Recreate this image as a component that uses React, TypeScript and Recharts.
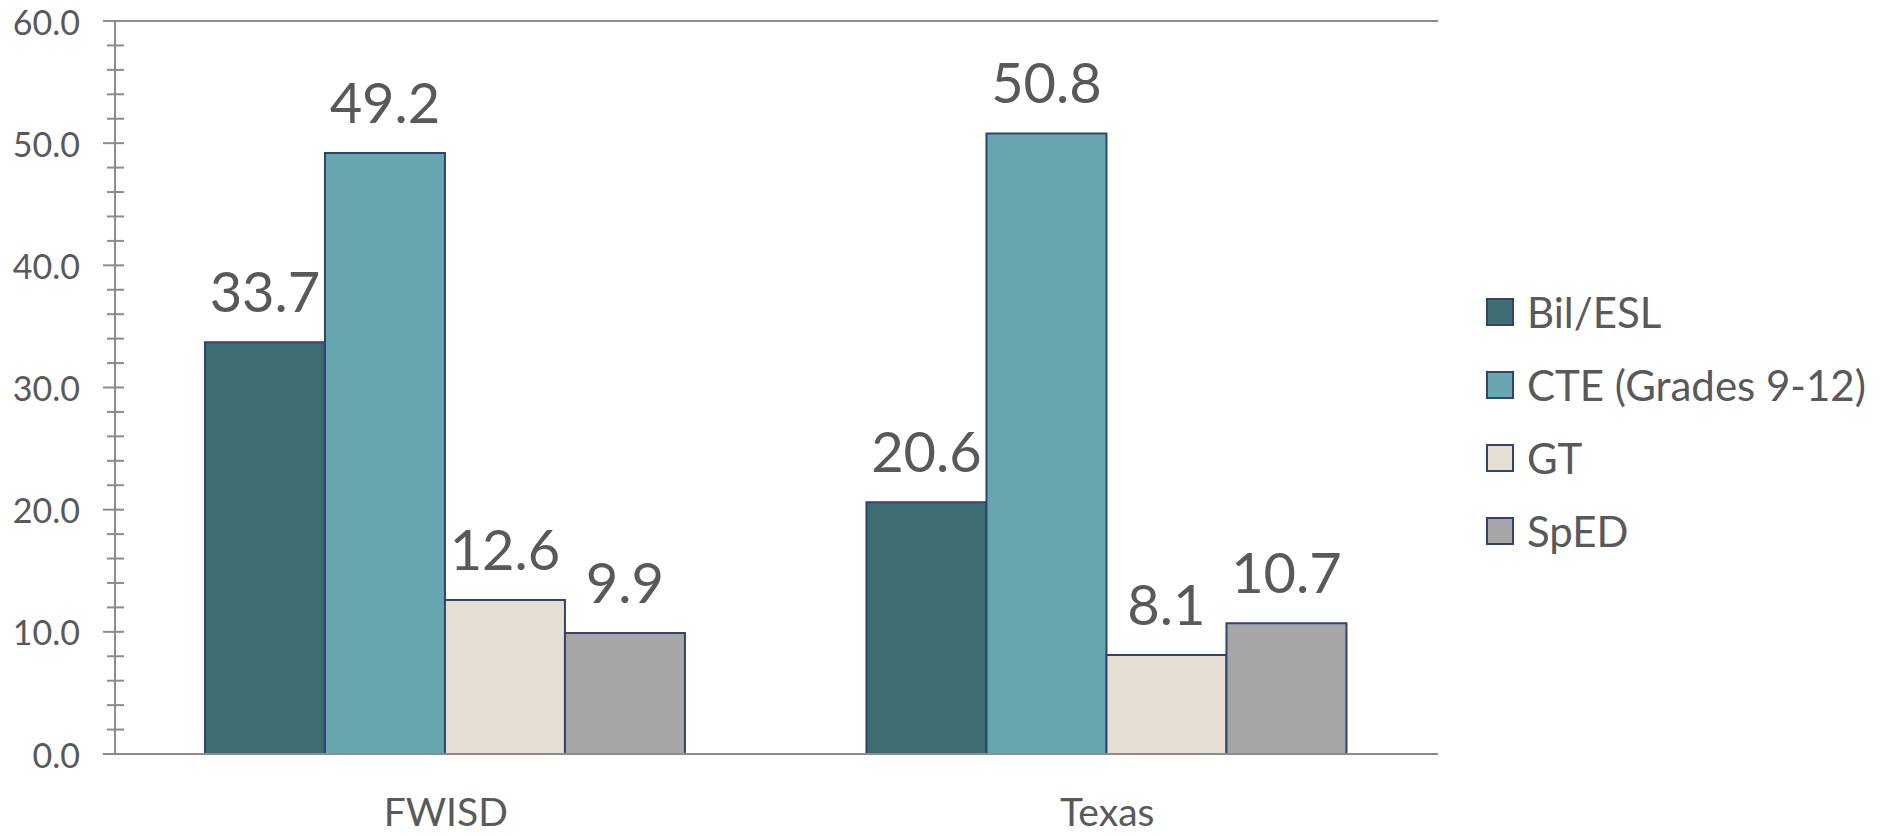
import React from 'react';
import {
  BarChart,
  Bar,
  XAxis,
  YAxis,
  CartesianGrid,
  Legend,
  LabelList,
} from 'recharts';

const categories = ['FWISD', 'Texas'];
const bilEsl = [33.7, 20.6];
const cte = [49.2, 50.8];
const gt = [12.6, 8.1];
const sped = [9.9, 10.7];

const seriesNames = ['Bil/ESL', 'CTE (Grades 9-12)', 'GT', 'SpED'];
const seriesColors = ['#3E6C73', '#67A6AF', '#E6DED0', '#A6A6A6'];
const majorTicks = [0, 10, 20, 30, 40, 50, 60];
const allTicks = [
  0, 2, 4, 6, 8, 10, 12, 14, 16, 18, 20, 22, 24, 26, 28, 30, 32, 34, 36, 38, 40,
  42, 44, 46, 48, 50, 52, 54, 56, 58, 60,
];
const edgeTicks = [0, 1, 2];

const data = categories.map((name, i) => ({
  name,
  s0: bilEsl[i],
  s1: cte[i],
  s2: gt[i],
  s3: sped[i],
}));

const FONT = 'Lato, "Open Sans", sans-serif';
const TEXT = '#595959';
const GRID = '#8C8C8C';
const STROKE = '#2F4470';

const YTick = (props: any) => {
  const { x, y, payload } = props;
  const v = Number(payload.value);
  const isMajor = majorTicks.includes(v);
  return (
    <g>
      <line
        x1={x + (isMajor ? 23 : 27)}
        x2={x + 44}
        y1={y}
        y2={y}
        stroke={GRID}
        strokeWidth={2}
      />
      {isMajor && (
        <text
          x={x}
          y={y}
          textAnchor="end"
          dominantBaseline="central"
          fill={TEXT}
          fontSize={34}
          fontFamily={FONT}
        >
          {v.toFixed(1)}
        </text>
      )}
    </g>
  );
};

const LegendContent = (props: any) => {
  const payload = props.payload || [];
  return (
    <div style={{ fontFamily: FONT }}>
      {payload.map((p: any, i: number) => (
        <div key={i} style={{ display: 'flex', alignItems: 'center', height: 73 }}>
          <div
            style={{
              width: 24,
              height: 24,
              background: p.color,
              border: `2px solid ${STROKE}`,
              marginRight: 13,
              flexShrink: 0,
            }}
          />
          <span style={{ fontSize: 42, color: TEXT, whiteSpace: 'nowrap' }}>{p.value}</span>
        </div>
      ))}
    </div>
  );
};

export default function App() {
  return (
    <div
      style={{ position: 'absolute', left: 0, top: 0, width: 1881, height: 835, background: '#fff' }}
    >
      <BarChart
        width={1881}
        height={835}
        data={data}
        margin={{ top: 21, right: 443, left: 0, bottom: 79 }}
        barCategoryGap="13.6%"
        barGap={0}
      >
        <CartesianGrid
          xAxisId="cat"
          yAxisId="grid"
          vertical={false}
          stroke={GRID}
          strokeWidth={2}
        />
        <XAxis
          xAxisId="cat"
          dataKey="name"
          height={1}
          axisLine={{ stroke: GRID, strokeWidth: 2 }}
          tickLine={false}
          tickSize={0}
          tickMargin={44}
          interval={0}
          tick={{ fill: TEXT, fontSize: 39, fontFamily: FONT }}
        />
        <XAxis
          xAxisId="edges"
          type="number"
          domain={[0, 2]}
          ticks={edgeTicks}
          height={1}
          axisLine={false}
          tick={false}
          tickSize={15}
          interval={0}
          tickLine={{ stroke: GRID, strokeWidth: 2 }}
        />
        <YAxis
          yAxisId="major"
          domain={[0, 60]}
          ticks={allTicks}
          interval={0}
          width={115}
          tickSize={12}
          tickMargin={23}
          tickLine={false}
          axisLine={{ stroke: GRID, strokeWidth: 2 }}
          tick={<YTick />}
        />
        <YAxis
          yAxisId="grid"
          hide
          width={0}
          domain={[0, 60]}
          ticks={majorTicks}
          interval={0}
        />
        <Legend
          layout="vertical"
          align="center"
          verticalAlign="middle"
          width={395}
          wrapperStyle={{ left: 1486, top: 275, width: 395 }}
          content={<LegendContent />}
        />
        {seriesNames.map((nm, i) => (
          <Bar
            key={nm}
            xAxisId="cat"
            yAxisId="major"
            dataKey={`s${i}`}
            name={nm}
            fill={seriesColors[i]}
            stroke={STROKE}
            strokeWidth={2}
            isAnimationActive={false}
          >
            <LabelList
              dataKey={`s${i}`}
              position="top"
              offset={30}
              fill={TEXT}
              fontSize={56}
              fontFamily={FONT}
              formatter={(v: any) => Number(v).toFixed(1)}
            />
          </Bar>
        ))}
      </BarChart>
    </div>
  );
}
